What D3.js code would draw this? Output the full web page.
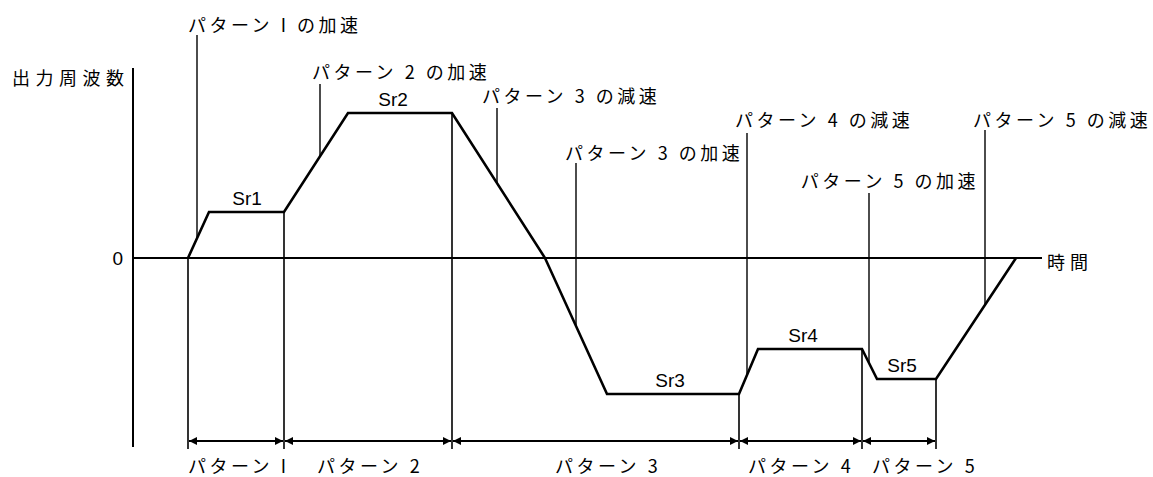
<!DOCTYPE html>
<html>
<head>
<meta charset="utf-8">
<script src="https://cdn.jsdelivr.net/npm/d3@7"></script>
<style>
  body { margin: 0; background: #fff; }
  .jp { font-family: "Noto Sans CJK JP", sans-serif; font-size: 18px; letter-spacing: 3.5px; fill: #000; }
  .lat { font-family: "Liberation Sans", Arial, sans-serif; font-size: 19px; fill: #000; }
</style>
</head>
<body>
<div id="chart"></div>
<script>
// time / output frequency breakpoints of the profile (arbitrary units)
var curveTime = [55, 76, 151, 215, 319, 412, 474, 606, 625, 729, 744, 803, 883]
var curveFreq = [0, 46, 46, 145, 145, 0, -136, -136, -91, -91, -121, -121, 0]

// pattern boundaries and names
var patternBounds = [55, 151, 319, 606, 729, 803]
var patternNames = ["パターン I", "パターン 2", "パターン 3", "パターン 4", "パターン 5"]

// speed levels
var levelNames = ["Sr1", "Sr2", "Sr3", "Sr4", "Sr5"]
var levelFreq = [46, 145, -136, -91, -121]

// leader callouts
var calloutTexts = ["パターン I の加速", "パターン 2 の加速", "パターン 3 の減速", "パターン 3 の加速",
                    "パターン 4 の減速", "パターン 5 の加速", "パターン 5 の減速"]
var calloutTime = [64, 187, 364, 443, 614, 736, 852]

var yTitle = "出力周波数"
var xTitle = "時間"

// ---- layout (pixels) ----
var width = 1153, height = 477
var levelLabelX = [247, 393, 670, 803, 902]
var calloutTop = [35, 84, 108, 163, 133, 193, 130]
var calloutTextX = [188, 312, 482, 565, 735, 979, 973]
var calloutTextY = [24, 71, 95, 152, 119, 180, 119]
var calloutAnchor = ["start", "start", "start", "start", "start", "end", "start"]
var patternTextX = [188, 317, 555, 748, 872]

var x = d3.scaleLinear().domain([0, 900]).range([133, 1033])
var y = d3.scaleLinear().domain([-190, 190]).range([448, 68])

var svg = d3.select("#chart").append("svg")
            .attr("width", width)
            .attr("height", height)

var defs = svg.append("defs")
defs.append("marker")
    .attr("id", "arr")
    .attr("viewBox", "0 0 10 10")
    .attr("refX", 10).attr("refY", 5)
    .attr("markerWidth", 9).attr("markerHeight", 8)
    .attr("markerUnits", "userSpaceOnUse")
    .attr("orient", "auto-start-reverse")
    .append("path")
    .attr("d", "M0,0L10,5L0,10Z")
    .attr("fill", "#000")

// y axis and zero line
svg.append("line")
   .attr("x1", x(0)).attr("x2", x(0))
   .attr("y1", y(190)).attr("y2", y(-189))
   .attr("stroke", "#000").attr("stroke-width", 2)

svg.append("line")
   .attr("x1", x(0)).attr("x2", x(909))
   .attr("y1", y(0)).attr("y2", y(0))
   .attr("stroke", "#000").attr("stroke-width", 1.8)

svg.append("text").attr("class", "lat")
   .attr("x", x(0) - 10).attr("y", y(0))
   .attr("text-anchor", "end").attr("dominant-baseline", "central")
   .attr("font-size", 18)
   .text("0")

svg.append("text").attr("class", "jp")
   .attr("x", 12).attr("y", 77)
   .attr("dominant-baseline", "central")
   .style("letter-spacing", "5.5px")
   .text(yTitle)

svg.append("text").attr("class", "jp")
   .attr("x", x(914)).attr("y", 261)
   .attr("dominant-baseline", "central")
   .style("letter-spacing", "5px")
   .text(xTitle)

// frequency at a time
function freqAt(t) {
    for (var i = 1; i < curveTime.length; i++) {
        if (t <= curveTime[i]) {
            var f = (t - curveTime[i - 1]) / (curveTime[i] - curveTime[i - 1])
            return curveFreq[i - 1] + f * (curveFreq[i] - curveFreq[i - 1])
        }
    }
    return 0
}

// vertical drop lines at pattern boundaries
svg.append("g").selectAll("line")
   .data(patternBounds)
   .enter().append("line")
   .attr("x1", d => x(d)).attr("x2", d => x(d))
   .attr("y1", d => y(freqAt(d))).attr("y2", 449)
   .attr("stroke", "#000").attr("stroke-width", 1.6)

// dimension arrows
var arrowY = 441
svg.append("g").selectAll("line")
   .data(d3.pairs(patternBounds))
   .enter().append("line")
   .attr("x1", d => x(d[0]) + 1).attr("x2", d => x(d[1]) - 1)
   .attr("y1", arrowY).attr("y2", arrowY)
   .attr("stroke", "#000").attr("stroke-width", 1.8)
   .attr("marker-start", "url(#arr)")
   .attr("marker-end", "url(#arr)")

svg.append("g").selectAll("text")
   .data(patternNames)
   .enter().append("text").attr("class", "jp")
   .attr("x", (d, i) => patternTextX[i]).attr("y", 465)
   .attr("dominant-baseline", "central")
   .text(d => d)

// leader lines
svg.append("g").selectAll("line")
   .data(calloutTime)
   .enter().append("line")
   .attr("x1", d => x(d)).attr("x2", d => x(d))
   .attr("y1", (d, i) => calloutTop[i]).attr("y2", d => y(freqAt(d)))
   .attr("stroke", "#000").attr("stroke-width", 1.4)

svg.append("g").selectAll("text")
   .data(calloutTexts)
   .enter().append("text").attr("class", "jp")
   .attr("x", (d, i) => calloutTextX[i]).attr("y", (d, i) => calloutTextY[i])
   .attr("text-anchor", (d, i) => calloutAnchor[i])
   .attr("dominant-baseline", "central")
   .text(d => d)

// the frequency profile
var line = d3.line()
             .x(d => x(d[0]))
             .y(d => y(d[1]))
svg.append("path")
   .datum(d3.zip(curveTime, curveFreq))
   .attr("d", line)
   .attr("fill", "none")
   .attr("stroke", "#000")
   .attr("stroke-width", 2.6)
   .attr("stroke-linejoin", "miter")

// level labels
svg.append("g").selectAll("text")
   .data(levelNames)
   .enter().append("text").attr("class", "lat")
   .attr("x", (d, i) => levelLabelX[i])
   .attr("y", (d, i) => y(levelFreq[i]) - 7)
   .attr("text-anchor", "middle")
   .text(d => d)
</script>
</body>
</html>
